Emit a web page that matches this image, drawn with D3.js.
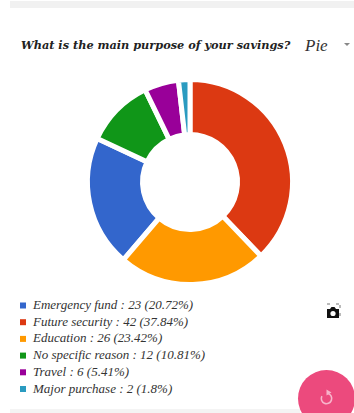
<!DOCTYPE html>
<html>
<head>
<meta charset="utf-8">
<script src="https://cdnjs.cloudflare.com/ajax/libs/d3/7.8.5/d3.min.js"></script>
<style>
html, body { margin: 0; padding: 0; background: #fff; overflow: hidden; }
svg { display: block; }
text { font-family: "Liberation Serif", serif; }
text.heading { font-family: "DejaVu Serif", serif; }
</style>
</head>
<body>
<svg id="chart" width="354" height="413"></svg>
<script>
const categories = ["Emergency fund", "Future security", "Education", "No specific reason", "Travel", "Major purchase"];
const counts = [23, 42, 26, 12, 6, 2];
const shares = ["20.72%", "37.84%", "23.42%", "10.81%", "5.41%", "1.8%"];
const colors = ["#3366cc", "#dc3912", "#ff9900", "#109618", "#990099", "#2a9bc0"];
const title = "What is the main purpose of your savings?";
const chartType = "Pie";

const svg = d3.select("#chart");

// Header and footer bands of the card
svg.append("rect").attr("x", 10).attr("y", 1).attr("width", 344).attr("height", 7).attr("fill", "#f1f1f1");
svg.append("rect").attr("x", 10).attr("y", 409).attr("width", 290).attr("height", 4).attr("fill", "#f4f4f4");

// Title row
svg.append("text").attr("class", "heading").attr("x", 21).attr("y", 49)
  .attr("font-size", 11.3).attr("font-weight", "bold").attr("font-style", "italic")
  .attr("fill", "#222").text(title);
svg.append("text").attr("x", 305).attr("y", 51)
  .attr("font-size", 17).attr("font-style", "italic").attr("fill", "#333").text(chartType);
svg.append("path").attr("d", d3.line()([[344, 43], [350, 43], [347, 46]])).attr("fill", "#888");

// Donut, largest slice first, clockwise from twelve o'clock
const pie = d3.pie().value(i => counts[i]);
const arc = d3.arc().innerRadius(47.5).outerRadius(102.5);
svg.append("g").attr("transform", "translate(190,182)")
  .selectAll("path")
  .data(pie(d3.range(categories.length)))
  .join("path")
  .attr("d", arc)
  .attr("fill", d => colors[d.data])
  .attr("stroke", "#fff")
  .attr("stroke-width", 5);

// Legend
const legendY = d3.scalePoint().domain(d3.range(categories.length)).range([305.5, 389]);
const rows = svg.append("g").selectAll("g").data(d3.range(categories.length)).join("g")
  .attr("transform", i => `translate(0,${legendY(i)})`);
rows.append("rect").attr("x", 20).attr("y", -3).attr("width", 6).attr("height", 6)
  .attr("fill", i => colors[i]);
rows.append("text").attr("x", 33).attr("y", 3.5)
  .attr("font-size", 13).attr("font-style", "italic").attr("fill", "#333")
  .text(i => `${categories[i]} : ${counts[i]} (${shares[i]})`);

// Camera button
const cam = svg.append("g").attr("transform", "translate(333,313)");
cam.append("path").attr("d", "M-6,-4h3l1.5,-2h3l1.5,2h3v9h-12z").attr("fill", "#111");
cam.append("circle").attr("r", 2.6).attr("cy", 0.5).attr("fill", "#fff");
cam.append("path").attr("d", "M-6,-9h3M3,-9h3M7,-8v3M7,0v3").attr("stroke", "#777").attr("stroke-width", 1).attr("fill", "none");

// Floating refresh button
const fab = svg.append("g").attr("transform", "translate(326.5,398.5)");
fab.append("circle").attr("r", 28.5).attr("fill", "#ec4a7d");
fab.append("path").attr("d", d3.arc().innerRadius(4.4).outerRadius(6)({startAngle: 0.3, endAngle: 5.2}))
  .attr("fill", "#f7b4ca");
fab.append("path").attr("d", "M0,-9l5,3l-5,3z").attr("fill", "#f7b4ca");
</script>
</body>
</html>
